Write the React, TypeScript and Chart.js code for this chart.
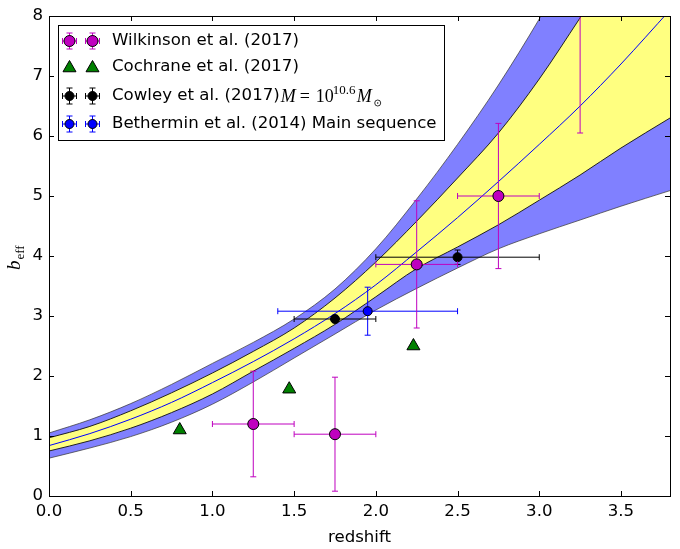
import React, { useEffect, useRef } from "react";
import { Chart, registerables } from "chart.js";

Chart.register(...registerables);

// model bands, sampled along redshift
const Z_GRID = [0, 0.25, 0.5, 0.75, 1.0, 1.25, 1.5, 1.75, 2.0, 2.25, 2.5, 2.75, 3.0, 3.25, 3.5, 3.8];
const OUTER_HI = [1.05, 1.27, 1.54, 1.86, 2.21, 2.56, 2.95, 3.45, 4.12, 4.95, 5.86, 6.85, 7.95, 9.15, 10.4, 12.0];
const INNER_HI = [0.97, 1.16, 1.42, 1.72, 2.05, 2.41, 2.8, 3.3, 3.9, 4.58, 5.3, 6.05, 6.95, 7.97, 9.0, 10.3];
const CENTER = [0.84, 1.04, 1.28, 1.56, 1.89, 2.24, 2.62, 3.04, 3.52, 4.07, 4.64, 5.24, 5.86, 6.5, 7.2, 8.1];
const INNER_LO = [0.75, 0.92, 1.13, 1.39, 1.7, 2.08, 2.46, 2.86, 3.32, 3.79, 4.15, 4.52, 4.93, 5.35, 5.8, 6.3];
const OUTER_LO = [0.63, 0.8, 0.99, 1.23, 1.53, 1.9, 2.3, 2.7, 3.1, 3.46, 3.8, 4.12, 4.37, 4.6, 4.83, 5.09];

// measurements
const WILK_Z = [1.25, 1.75, 2.25, 2.75, 3.25];
const WILK_B = [1.2, 1.03, 3.86, 5.0, 8.3];
const WILK_ZERR = [0.25, 0.25, 0.25, 0.25, 0.25];
const WILK_BERR = [0.88, 0.95, 1.06, 1.21, 2.25];

const COCH_Z = [0.8, 1.47, 2.23];
const COCH_B = [1.1, 1.78, 2.5];

const COWL_Z = [1.75, 2.5];
const COWL_B = [2.95, 3.98];
const COWL_ZERR = [0.25, 0.5];
const COWL_BERR = [0.06, 0.12];

const BETH_Z = [1.95];
const BETH_B = [3.08];
const BETH_ZERR = [0.55];
const BETH_BERR = [0.4];

const X_TICKS = [0, 0.5, 1.0, 1.5, 2.0, 2.5, 3.0, 3.5];
const Y_TICKS = [0, 1, 2, 3, 4, 5, 6, 7, 8];

const MAGENTA = "#bf00bf";
const GREEN = "#008000";
const SANS = "'DejaVu Sans', sans-serif";
const SERIF = "'Liberation Serif', serif";
const FONT_SIZE = 16.6;

const curve = (ys: number[]) => Z_GRID.map((z, i) => ({ x: z, y: ys[i] }));
const points = (xs: number[], ys: number[]) => xs.map((x, i) => ({ x, y: ys[i] }));

const line = (ctx: CanvasRenderingContext2D, x0: number, y0: number, x1: number, y1: number) => {
  ctx.beginPath();
  ctx.moveTo(x0, y0);
  ctx.lineTo(x1, y1);
  ctx.stroke();
};

// error bars are drawn just before each marker dataset
const errorBarPlugin = {
  id: "errorBars",
  beforeDatasetDraw(chart: any, args: any) {
    const ds = chart.data.datasets[args.index];
    if (!ds.xErr && !ds.yErr) return;
    const { ctx, chartArea, scales } = chart;
    const xs = scales.x;
    const ys = scales.y;
    const cap = 3;
    ctx.save();
    ctx.beginPath();
    ctx.rect(chartArea.left, chartArea.top, chartArea.right - chartArea.left, chartArea.bottom - chartArea.top);
    ctx.clip();
    ctx.strokeStyle = ds.errColor;
    ctx.lineWidth = 1;
    ds.data.forEach((p: any, i: number) => {
      const px = xs.getPixelForValue(p.x);
      const py = ys.getPixelForValue(p.y);
      const xe = ds.xErr ? ds.xErr[i] : 0;
      const ye = ds.yErr ? ds.yErr[i] : 0;
      if (xe > 0) {
        const x0 = xs.getPixelForValue(p.x - xe);
        const x1 = xs.getPixelForValue(p.x + xe);
        line(ctx, x0, py, x1, py);
        line(ctx, x0, py - cap, x0, py + cap);
        line(ctx, x1, py - cap, x1, py + cap);
      }
      if (ye > 0) {
        const y0 = ys.getPixelForValue(p.y - ye);
        const y1 = ys.getPixelForValue(p.y + ye);
        line(ctx, px, y0, px, y1);
        line(ctx, px - cap, y0, px + cap, y0);
        line(ctx, px - cap, y1, px + cap, y1);
      }
    });
    ctx.restore();
  },
};

const drawMarker = (ctx: CanvasRenderingContext2D, shape: string, x: number, y: number, r: number, fill: string) => {
  ctx.beginPath();
  if (shape === "triangle") {
    ctx.moveTo(x, y - r);
    ctx.lineTo(x + r * 0.866, y + r * 0.5);
    ctx.lineTo(x - r * 0.866, y + r * 0.5);
    ctx.closePath();
  } else {
    ctx.arc(x, y, r, 0, Math.PI * 2);
  }
  ctx.fillStyle = fill;
  ctx.fill();
  ctx.strokeStyle = "#000";
  ctx.lineWidth = 1;
  ctx.stroke();
};

const LEGEND = [
  { label: "Wilkinson et al. (2017)", color: MAGENTA, shape: "circle", r: 5.5, err: true },
  { label: "Cochrane et al. (2017)", color: GREEN, shape: "triangle", r: 7.5, err: false },
  { label: "Cowley et al. (2017)", color: "#000", shape: "circle", r: 4.5, err: true },
  { label: "Bethermin et al. (2014) Main sequence", color: "#0000ff", shape: "circle", r: 4.5, err: true },
];

const framePlugin = {
  id: "frame",
  afterDraw(chart: any) {
    const { ctx, chartArea: a, scales } = chart;
    ctx.save();
    ctx.strokeStyle = "#000";
    ctx.lineWidth = 1;
    // inward ticks on all four sides
    X_TICKS.forEach((v) => {
      const px = Math.round(scales.x.getPixelForValue(v)) + 0.5;
      line(ctx, px, a.bottom, px, a.bottom - 5);
      line(ctx, px, a.top, px, a.top + 5);
    });
    Y_TICKS.forEach((v) => {
      const py = Math.round(scales.y.getPixelForValue(v)) + 0.5;
      line(ctx, a.left, py, a.left + 5, py);
      line(ctx, a.right, py, a.right - 5, py);
    });
    ctx.strokeRect(Math.round(a.left) + 0.5, Math.round(a.top) + 0.5, Math.round(a.right - a.left), Math.round(a.bottom - a.top));

    // axis titles
    ctx.fillStyle = "#000";
    ctx.font = `${FONT_SIZE}px ${SANS}`;
    ctx.textAlign = "center";
    ctx.textBaseline = "alphabetic";
    ctx.fillText("redshift", (a.left + a.right) / 2, 542);

    ctx.save();
    ctx.translate(20, 270);
    ctx.rotate(-Math.PI / 2);
    ctx.textAlign = "left";
    ctx.font = `italic 19px ${SERIF}`;
    ctx.fillText("b", 0, 0);
    const bw = ctx.measureText("b").width;
    ctx.font = `13px ${SERIF}`;
    ctx.fillText("eff", bw + 1, 4);
    ctx.restore();

    // legend box
    const lx = 58.5;
    const ly = 25.5;
    ctx.fillStyle = "#fff";
    ctx.fillRect(lx, ly, 386, 115);
    ctx.strokeRect(lx, ly, 386, 115);
    const rows = [41, 67, 96, 124];
    LEGEND.forEach((item, i) => {
      const y = rows[i];
      [69.5, 92.5].forEach((mx) => {
        ctx.strokeStyle = item.color;
        if (item.err) {
          line(ctx, mx - 7, y, mx + 7, y);
          line(ctx, mx - 7, y - 3, mx - 7, y + 3);
          line(ctx, mx + 7, y - 3, mx + 7, y + 3);
          line(ctx, mx, y - 8, mx, y + 8);
          line(ctx, mx - 3, y - 8, mx + 3, y - 8);
          line(ctx, mx - 3, y + 8, mx + 3, y + 8);
        }
        drawMarker(ctx, item.shape, mx, item.shape === "triangle" ? y + 1 : y, item.r, item.color);
      });
      ctx.fillStyle = "#000";
      ctx.textAlign = "left";
      ctx.textBaseline = "middle";
      ctx.font = `${FONT_SIZE}px ${SANS}`;
      ctx.fillText(item.label, 112, y);
      if (i === 2) {
        // M = 10^{10.6} M_sun
        const x0 = 112 + ctx.measureText(item.label).width + 1;
        const base = y + 6;
        ctx.textBaseline = "alphabetic";
        ctx.font = `italic 18px ${SERIF}`;
        ctx.fillText("M", x0, base);
        ctx.font = `18px ${SERIF}`;
        ctx.fillText("=", x0 + 19, base);
        ctx.fillText("10", x0 + 35, base);
        ctx.font = `13px ${SERIF}`;
        ctx.fillText("10.6", x0 + 52, base - 8);
        ctx.font = `italic 18px ${SERIF}`;
        ctx.fillText("M", x0 + 76, base);
        const cx = x0 + 97;
        ctx.strokeStyle = "#000";
        ctx.lineWidth = 0.8;
        ctx.beginPath();
        ctx.arc(cx, base + 1, 3, 0, Math.PI * 2);
        ctx.stroke();
        ctx.beginPath();
        ctx.arc(cx, base + 1, 0.7, 0, Math.PI * 2);
        ctx.fillStyle = "#000";
        ctx.fill();
        ctx.lineWidth = 1;
      }
    });
    ctx.restore();
  },
};

const App: React.FC = () => {
  const chartRef = useRef<HTMLCanvasElement>(null);
  const chartInstance = useRef<Chart | null>(null);

  useEffect(() => {
    if (!chartRef.current) return;
    if (chartInstance.current) chartInstance.current.destroy();
    const ctx = chartRef.current.getContext("2d");
    if (!ctx) return;

    const band = {
      type: "line" as const,
      pointRadius: 0,
      borderWidth: 1,
      cubicInterpolationMode: "monotone" as const,
    };

    chartInstance.current = new Chart(ctx, {
      type: "scatter",
      data: {
        datasets: [
          { ...band, label: "outer hi", data: curve(OUTER_HI), borderColor: "rgba(60,60,60,0.75)", backgroundColor: "#8080ff", fill: "+1", order: 20 },
          { ...band, label: "outer lo", data: curve(OUTER_LO), borderColor: "rgba(60,60,60,0.75)", fill: false, order: 19 },
          { ...band, label: "inner hi", data: curve(INNER_HI), borderColor: "#222", backgroundColor: "#ffff80", fill: "+1", order: 18 },
          { ...band, label: "inner lo", data: curve(INNER_LO), borderColor: "#222", fill: false, order: 17 },
          { ...band, label: "median", data: curve(CENTER), borderColor: "#0000ff", fill: false, order: 16 },
          {
            label: "Bethermin et al. (2014) Main sequence",
            data: points(BETH_Z, BETH_B),
            xErr: BETH_ZERR,
            yErr: BETH_BERR,
            errColor: "#0000ff",
            pointRadius: 4.5,
            backgroundColor: "#0000ff",
            borderColor: "#000",
            borderWidth: 1,
            order: 4,
          } as any,
          {
            label: "Cowley et al. (2017)",
            data: points(COWL_Z, COWL_B),
            xErr: COWL_ZERR,
            yErr: COWL_BERR,
            errColor: "#000",
            pointRadius: 4.5,
            backgroundColor: "#000",
            borderColor: "#000",
            borderWidth: 1,
            order: 3,
          } as any,
          {
            label: "Cochrane et al. (2017)",
            data: points(COCH_Z, COCH_B),
            pointStyle: "triangle",
            pointRadius: 7.5,
            backgroundColor: GREEN,
            borderColor: "#000",
            borderWidth: 1,
            order: 2,
          },
          {
            label: "Wilkinson et al. (2017)",
            data: points(WILK_Z, WILK_B),
            xErr: WILK_ZERR,
            yErr: WILK_BERR,
            errColor: MAGENTA,
            pointRadius: 5.5,
            backgroundColor: MAGENTA,
            borderColor: "#000",
            borderWidth: 1,
            order: 1,
          } as any,
        ],
      },
      options: {
        animation: false,
        responsive: true,
        maintainAspectRatio: false,
        events: [],
        layout: { padding: { top: 16, right: 10, left: 0, bottom: 0 } },
        plugins: {
          legend: { display: false },
          tooltip: { enabled: false },
        },
        scales: {
          x: {
            type: "linear",
            min: 0,
            max: 3.8,
            grid: { display: false, drawTicks: false },
            border: { display: false },
            afterBuildTicks: (scale: any) => {
              scale.ticks = X_TICKS.map((v) => ({ value: v }));
            },
            afterFit: (scale: any) => {
              scale.height = 53;
            },
            ticks: {
              color: "#000",
              font: { family: SANS, size: FONT_SIZE },
              padding: 6,
              maxRotation: 0,
              callback: (v: any) => Number(v).toFixed(1),
            },
          },
          y: {
            type: "linear",
            min: 0,
            max: 8,
            grid: { display: false, drawTicks: false },
            border: { display: false },
            afterBuildTicks: (scale: any) => {
              scale.ticks = Y_TICKS.map((v) => ({ value: v }));
            },
            afterFit: (scale: any) => {
              scale.width = 49;
            },
            ticks: {
              color: "#000",
              font: { family: SANS, size: FONT_SIZE },
              padding: 6,
              callback: (v: any) => String(v),
            },
          },
        },
      },
      plugins: [errorBarPlugin, framePlugin],
    });

    return () => {
      if (chartInstance.current) {
        chartInstance.current.destroy();
        chartInstance.current = null;
      }
    };
  }, []);

  return (
    <div style={{ position: "absolute", left: 0, top: 0, width: 680, height: 549, background: "#fff" }}>
      <canvas ref={chartRef}></canvas>
    </div>
  );
};

export default App;
